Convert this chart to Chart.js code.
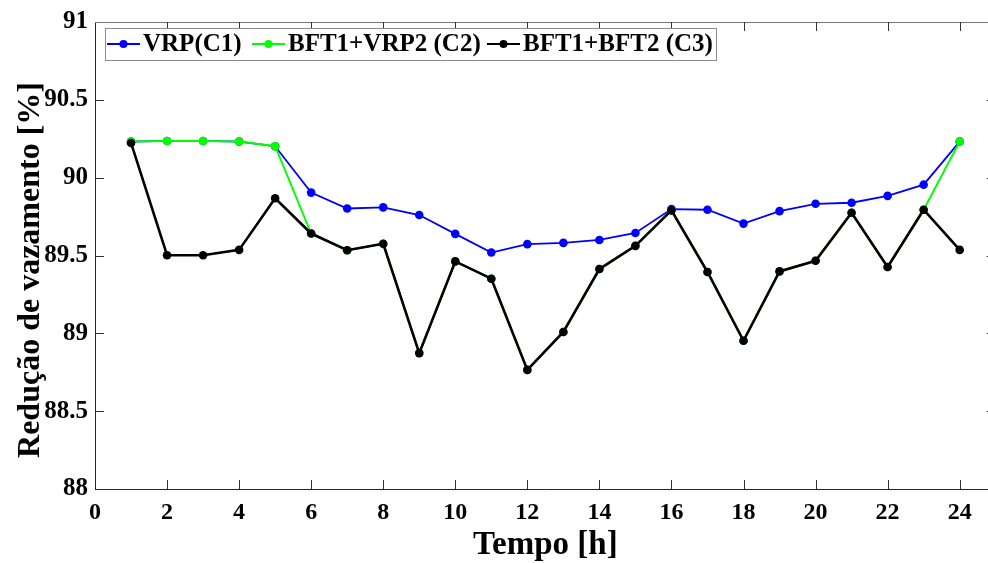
<!DOCTYPE html>
<html><head><meta charset="utf-8">
<script src="https://cdn.jsdelivr.net/npm/chart.js@4/dist/chart.umd.min.js"></script>
<style>
html,body{margin:0;padding:0;overflow:hidden;background:#fff;width:988px;height:563px}
#wrap{position:absolute;left:0;top:0;width:1000px;height:563px}
</style>
</head><body><div id="wrap"><canvas id="c" width="1000" height="563"></canvas></div>
<script>
const hours = [1,2,3,4,5,6,7,8,9,10,11,12,13,14,15,16,17,18,19,20,21,22,23,24];
const seriesNames = ['VRP(C1)', 'BFT1+VRP2 (C2)', 'BFT1+BFT2 (C3)'];
const c1 = [90.232,90.236,90.236,90.232,90.202,89.904,89.802,89.809,89.760,89.639,89.519,89.573,89.581,89.600,89.645,89.798,89.794,89.705,89.785,89.832,89.839,89.883,89.955,90.232];
const c2 = [90.232,90.236,90.236,90.232,90.202,89.641,89.534,89.575,88.873,89.462,89.351,88.765,89.009,89.413,89.562,89.790,89.394,88.952,89.398,89.466,89.775,89.426,89.794,90.232];
const c3 = [90.223,89.502,89.502,89.536,89.868,89.641,89.534,89.575,88.873,89.462,89.351,88.765,89.009,89.413,89.562,89.790,89.394,88.952,89.398,89.466,89.775,89.426,89.794,89.536];
const xTicks = [0,2,4,6,8,10,12,14,16,18,20,22,24];
const yTicks = [88,88.5,89,89.5,90,90.5,91];
const xTitle = 'Tempo [h]';
const yTitle = 'Redução de vazamento [%]';

const FONT = '"Liberation Serif","Times New Roman",serif';
const colors = ['#0000ff', '#00ff00', '#000000'];
const widths = [1.8, 1.9, 2.6];

function ds(vals, i, order) {
  return {
    label: seriesNames[i],
    data: hours.map((h, k) => ({x: h, y: vals[k]})),
    borderColor: colors[i], backgroundColor: colors[i],
    pointBackgroundColor: colors[i], pointBorderColor: colors[i],
    borderWidth: widths[i], pointRadius: 4.3, pointBorderWidth: 0, tension: 0, order: order
  };
}

const frameTicks = {
  id: 'frameTicks',
  afterDraw(chart) {
    const {ctx, chartArea: a, scales: {x, y}} = chart;
    ctx.save();
    ctx.lineWidth = 1;
    ctx.strokeStyle = '#777';
    ctx.beginPath();
    ctx.moveTo(a.left, a.top + 0.5); ctx.lineTo(a.right, a.top + 0.5);
    ctx.moveTo(a.right - 0.5, a.top); ctx.lineTo(a.right - 0.5, a.bottom);
    ctx.stroke();
    ctx.strokeStyle = '#333';
    ctx.beginPath();
    xTicks.forEach(v => {
      const px = Math.round(x.getPixelForValue(v)) + 0.5;
      if (v === 0) return;
      ctx.moveTo(px, a.bottom); ctx.lineTo(px, a.bottom - 9);
      ctx.moveTo(px, a.top); ctx.lineTo(px, a.top + 9);
    });
    yTicks.forEach(v => {
      const py = Math.round(y.getPixelForValue(v)) + 0.5;
      if (v === 88 || v === 91) return;
      ctx.moveTo(a.left, py); ctx.lineTo(a.left + 9, py);
      ctx.moveTo(a.right, py); ctx.lineTo(a.right - 9, py);
    });
    ctx.stroke();
    // y axis title
    ctx.save();
    ctx.translate(31, 270);
    ctx.rotate(-Math.PI / 2);
    ctx.font = 'bold 32px ' + FONT;
    ctx.fillStyle = '#000';
    ctx.textAlign = 'center';
    ctx.textBaseline = 'middle';
    ctx.fillText(yTitle, 0, 0);
    ctx.restore();
    ctx.restore();
  }
};

const boxLegend = {
  id: 'boxLegend',
  afterDraw(chart) {
    const ctx = chart.ctx;
    ctx.save();
    ctx.fillStyle = '#fff';
    ctx.fillRect(105.5, 28.5, 611, 32);
    ctx.strokeStyle = '#8c8c8c';
    ctx.lineWidth = 1;
    ctx.strokeRect(105.5, 28.5, 611, 32);
    const starts = [107, 252, 487];
    const yc = 44;
    ctx.font = 'bold 25px ' + FONT;
    ctx.textBaseline = 'middle';
    ctx.textAlign = 'left';
    chart.data.datasets.forEach((d, i) => {
      const x0 = starts[i];
      ctx.strokeStyle = d.borderColor;
      ctx.lineWidth = 2;
      ctx.beginPath(); ctx.moveTo(x0, yc); ctx.lineTo(x0 + 33, yc); ctx.stroke();
      ctx.fillStyle = d.borderColor;
      ctx.beginPath(); ctx.arc(x0 + 16.5, yc, 4, 0, Math.PI * 2); ctx.fill();
      ctx.fillStyle = '#000';
      ctx.fillText(d.label, x0 + 36, yc + 1);
    });
    ctx.restore();
  }
};

new Chart(document.getElementById('c'), {
  type: 'line',
  data: { datasets: [ds(c1, 0, 2), ds(c2, 1, 1), ds(c3, 2, 0)] },
  options: {
    responsive: false, animation: false, devicePixelRatio: 1,
    layout: { padding: { top: 19, right: 4, left: 0, bottom: 0 } },
    plugins: { legend: { display: false }, tooltip: { enabled: false } },
    scales: {
      x: {
        type: 'linear', min: 0, max: 25,
        afterBuildTicks: s => { s.ticks = xTicks.map(v => ({value: v})); },
        afterFit: s => { s.height = 74; },
        grid: { display: false, drawTicks: false },
        border: { display: true, color: '#262626', width: 1 },
        ticks: { color: '#000', font: { family: FONT, size: 24, weight: 'bold' }, padding: 9, maxRotation: 0, autoSkip: false, callback: v => String(+v) },
        title: { display: true, text: xTitle, color: '#000', font: { family: FONT, size: 33, weight: 'bold', lineHeight: 1 }, padding: { top: 0, bottom: 1 } }
      },
      y: {
        type: 'linear', min: 88, max: 91,
        afterBuildTicks: s => { s.ticks = yTicks.map(v => ({value: v})); },
        afterFit: s => { s.width = 95; },
        grid: { display: false, drawTicks: false },
        border: { display: true, color: '#262626', width: 1 },
        ticks: { color: '#000', font: { family: FONT, size: 25, weight: 'bold' }, padding: 7, callback: v => String(+v) },
        title: { display: false }
      }
    }
  },
  plugins: [frameTicks, boxLegend]
});
</script>
</body></html>
